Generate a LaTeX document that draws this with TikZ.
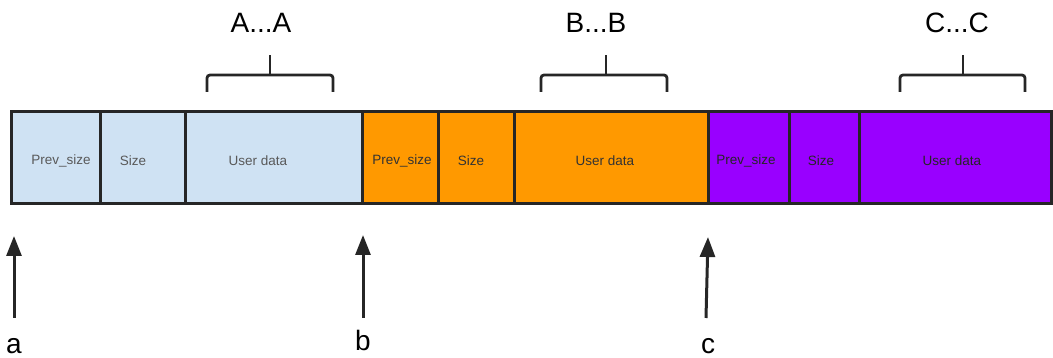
\documentclass[tikz,border=0pt]{standalone}
\usepackage{fontspec}
\setmainfont{Liberation Sans}
\usetikzlibrary{arrows.meta}
\definecolor{cblue}{HTML}{CFE2F3}
\definecolor{corange}{HTML}{FF9900}
\definecolor{cpurple}{HTML}{9900FF}
\begin{document}
\begin{tikzpicture}[x=1pt,y=-1pt,
  cell/.style={draw=black!85, line width=3pt, anchor=north west, inner sep=0pt, outer sep=0pt, minimum height=92pt},
  celltext/.style={font=\fontsize{13.5}{15}\selectfont, inner sep=0pt},
  bigtext/.style={font=\fontsize{28}{32}\selectfont, anchor=base, inner sep=0pt},
  brace/.style={draw=black!85, line width=2.8pt, rounded corners=3pt},
  arr/.style={draw=black!85, line width=3pt, -{Triangle[length=20pt,width=15pt]}}]
\useasboundingbox (0,0) rectangle (1053,358);
% cells
\node[cell, fill=cblue, minimum width=89pt] (a1) at (11,112) {};
\node[cell, fill=cblue, minimum width=85pt] (a2) at (100,112) {};
\node[cell, fill=cblue, minimum width=177pt] (a3) at (185,112) {};
\node[cell, fill=corange, minimum width=76pt] (b1) at (362,112) {};
\node[cell, fill=corange, minimum width=76pt] (b2) at (438,112) {};
\node[cell, fill=corange, minimum width=194pt] (b3) at (514,112) {};
\node[cell, fill=cpurple, minimum width=81pt] (c1) at (708,112) {};
\node[cell, fill=cpurple, minimum width=70pt] (c2) at (789,112) {};
\node[cell, fill=cpurple, minimum width=192pt] (c3) at (859,112) {};
% cell texts
\node[celltext, text=black!65] (ta1) at (61,161) {Prev\_size};
\node[celltext, text=black!65] (ta2) at (133,161) {Size};
\node[celltext, text=black!65] (ta3) at (258,161) {User data};
\node[celltext, text=black!80] (tb1) at (402,161) {Prev\_size};
\node[celltext, text=black!80] (tb2) at (471,161) {Size};
\node[celltext, text=black!80] (tb3) at (605,161) {User data};
\node[celltext, text=black!85] (tc1) at (746,161) {Prev\_size};
\node[celltext, text=black!85] (tc2) at (821,161) {Size};
\node[celltext, text=black!85] (tc3) at (952,161) {User data};
% braces
\draw[brace] (207,92) -- (207,75) -- (333,75) -- (333,92);
\draw[brace, rounded corners=0pt] (270,75) -- (270,55);
\draw[brace] (541,92) -- (541,75) -- (667,75) -- (667,92);
\draw[brace, rounded corners=0pt] (606,75) -- (606,55);
\draw[brace] (900,92) -- (900,75) -- (1025,75) -- (1025,92);
\draw[brace, rounded corners=0pt] (963,75) -- (963,55);
\node[bigtext] (lA) at (261,33) {A...A};
\node[bigtext] (lB) at (596,33) {B...B};
\node[bigtext] (lC) at (957,33) {C...C};
% arrows
\coordinate (pa0) at (14,318); \coordinate (pa1) at (14,236);
\coordinate (pb0) at (363,318); \coordinate (pb1) at (363,235);
\coordinate (pc0) at (706,318); \coordinate (pc1) at (708,237);
\draw[arr] (pa0) -- (pa1);
\draw[arr] (pb0) -- (pb1);
\draw[arr] (pc0) -- (pc1);
\node[bigtext] (la) at (14,353) {a};
\node[bigtext] (lb) at (363,350) {b};
\node[bigtext] (lc) at (708,353) {c};
\end{tikzpicture}
\end{document}
